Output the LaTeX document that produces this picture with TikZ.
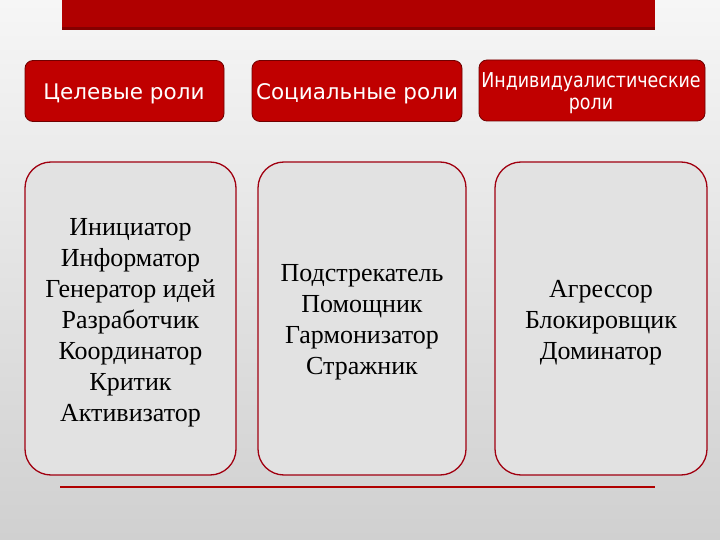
\documentclass[tikz,border=0pt]{standalone}
\usepackage{fontspec}
\setmainfont{Liberation Serif}
\newfontfamily\hdrfont{DejaVu Sans}
\newfontfamily\hdrnarrow[FakeStretch=0.85]{DejaVu Sans}
\definecolor{barred}{HTML}{B00000}
\definecolor{hdrred}{HTML}{C00000}
\definecolor{hdredge}{HTML}{700000}
\definecolor{boxedge}{HTML}{A00010}
\definecolor{boxfill}{HTML}{E2E2E2}
\definecolor{bgtop}{HTML}{F6F6F6}
\definecolor{bgbot}{HTML}{D0D0D0}
\tikzset{
  hdr/.style={draw=hdredge, line width=0.8pt, fill=hdrred, rounded corners=8pt,
    inner sep=0pt, minimum height=61pt},
  hdrtext/.style={text=white, font=\hdrfont\fontsize{21.5}{24}\selectfont,
    align=center, inner sep=0pt, anchor=base},
  rolebox/.style={draw=boxedge, line width=1.3pt, fill=boxfill, rounded corners=26pt,
    inner sep=0pt, minimum height=313pt},
  roletext/.style={font=\fontsize{26}{31}\selectfont, align=center, inner sep=0pt,
    text=black, yshift=-4pt},
}
\begin{document}
\begin{tikzpicture}[x=1pt,y=-1pt]
\useasboundingbox (0,0) rectangle (720,540);
\shade[top color=bgtop, bottom color=bgbot] (0,0) rectangle (720,540);
% top bar
\fill[barred] (62,0) rectangle (655,30);
\fill[black!25!barred] (62,27) rectangle (655,30);
% headers
\node[hdr, minimum width=199pt] (h1) at (124.5,91) {};
\node[hdr, minimum width=210pt] (h2) at (357,91) {};
\node[hdr, minimum width=226pt] (h3) at (592,90.5) {};
\node[hdrtext] (t1) at (124,100) {Целевые роли};
\node[hdrtext] (t2) at (357,100) {Социальные роли};
\node[hdrtext, font=\hdrnarrow\fontsize{20.5}{22}\selectfont] (t3) at (591,110)
  {Индивидуалистические\\роли};
% role boxes
\node[rolebox, minimum width=211pt] (b1) at (130.5,318.5) {};
\node[rolebox, minimum width=208pt] (b2) at (362,318.5) {};
\node[rolebox, minimum width=212pt] (b3) at (601,318.5) {};
\node[roletext] (r1) at (b1.center)
  {Инициатор\\Информатор\\Генератор идей\\Разработчик\\Координатор\\Критик\\Активизатор};
\node[roletext] (r2) at (b2.center)
  {Подстрекатель\\Помощник\\Гармонизатор\\Стражник};
\node[roletext] (r3) at (b3.center)
  {Агрессор\\Блокировщик\\Доминатор};
% bottom line
\coordinate (l1) at (60,487);
\coordinate (l2) at (655,487);
\draw[barred, line width=2pt] (l1) -- (l2);
\end{tikzpicture}
\end{document}
